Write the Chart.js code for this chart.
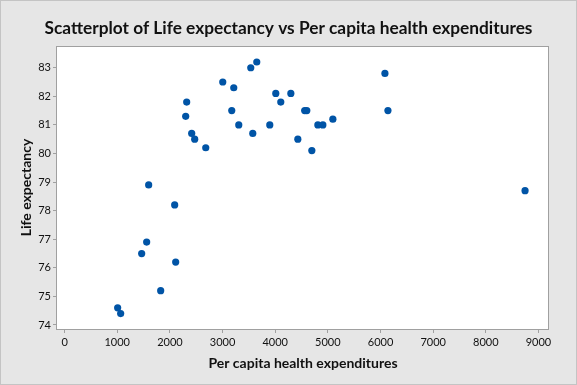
<!DOCTYPE html>
<html>
<head>
<meta charset="utf-8">
<script src="https://cdn.jsdelivr.net/npm/chart.js@4"></script>
<style>
  html, body { margin: 0; padding: 0; background: #e6e6e6; }
  canvas { display: block; }
</style>
</head>
<body>
<canvas id="chart" width="577" height="385"></canvas>
<script>
const chartTitle = "Scatterplot of Life expectancy vs Per capita health expenditures";
const xTitle = "Per capita health expenditures";
const yTitle = "Life expectancy";

// per capita health expenditures (x) and life expectancy (y), one entry per country
const expenditures = [1008, 1065, 1464, 1559, 1597, 1825, 2091, 2110, 2300, 2319, 2414, 2471, 2681,
  3004, 3175, 3213, 3308, 3536, 3574, 3650, 3897, 4011, 4106, 4297, 4430, 4560, 4600, 4696, 4810,
  4905, 5095, 6084, 6141, 8745];
const lifeExpectancy = [74.6, 74.4, 76.5, 76.9, 78.9, 75.2, 78.2, 76.2, 81.3, 81.8, 80.7, 80.5, 80.2,
  82.5, 81.5, 82.3, 81.0, 83.0, 80.7, 83.2, 81.0, 82.1, 81.8, 82.1, 80.5, 81.5, 81.5, 80.1, 81.0,
  81.0, 81.2, 82.8, 81.5, 78.7];

const xTicks = [0, 1000, 2000, 3000, 4000, 5000, 6000, 7000, 8000, 9000];
const yTicks = [74, 75, 76, 77, 78, 79, 80, 81, 82, 83];

const points = expenditures.map((x, i) => ({ x: x, y: lifeExpectancy[i] }));

const FONT = "Lato, 'Open Sans', sans-serif";

// grey page, white plot box, frame and the main title
const frame = {
  id: "frame",
  beforeDraw(chart) {
    const { ctx, chartArea: a, width, height } = chart;
    ctx.save();
    ctx.fillStyle = "#e6e6e6";
    ctx.fillRect(0, 0, width, height);
    ctx.strokeStyle = "#c4c4c4";
    ctx.lineWidth = 1;
    ctx.strokeRect(0.5, 0.5, width - 1, height - 1);
    ctx.fillStyle = "#ffffff";
    ctx.fillRect(a.left, a.top, a.right - a.left, a.bottom - a.top);
    ctx.restore();
  },
  afterDraw(chart) {
    const { ctx, chartArea: a, width } = chart;
    ctx.save();
    ctx.strokeStyle = "#a0a0a0";
    ctx.lineWidth = 1;
    ctx.strokeRect(a.left - 0.5, a.top + 0.5, a.right - a.left, a.bottom - a.top);
    ctx.fillStyle = "#111111";
    ctx.font = "bold 17.3px " + FONT;
    ctx.textAlign = "center";
    ctx.textBaseline = "alphabetic";
    ctx.fillText(chartTitle, width / 2, 34);
    ctx.restore();
  }
};

new Chart(document.getElementById("chart"), {
  type: "scatter",
  data: {
    datasets: [{
      data: points,
      backgroundColor: "#0054a6",
      borderWidth: 0,
      pointRadius: 3.6,
      pointHoverRadius: 3.6
    }]
  },
  options: {
    responsive: false,
    animation: false,
    devicePixelRatio: 1,
    layout: { padding: { top: 46, right: 28, left: 0, bottom: 0 } },
    plugins: {
      legend: { display: false },
      tooltip: { enabled: false },
      title: { display: false }
    },
    scales: {
      x: {
        type: "linear",
        min: -144,
        max: 9200,
        afterBuildTicks: (s) => { s.ticks = xTicks.map(v => ({ value: v })); },
        afterFit: (s) => { s.height = 56; },
        border: { display: false },
        grid: { drawOnChartArea: false, drawTicks: true, tickLength: 4, color: "#a0a0a0" },
        ticks: { color: "#111", font: { family: FONT, size: 11 }, padding: 3, maxRotation: 0, callback: (v) => String(v) },
        title: {
          display: true,
          text: xTitle,
          color: "#111",
          font: { family: FONT, size: 14, weight: "bold" },
          padding: { top: 0, bottom: 13 }
        }
      },
      y: {
        type: "linear",
        min: 73.86,
        max: 83.76,
        afterBuildTicks: (s) => { s.ticks = yTicks.map(v => ({ value: v })); },
        afterFit: (s) => { s.width = 57; },
        border: { display: false },
        grid: { drawOnChartArea: false, drawTicks: true, tickLength: 4, color: "#a0a0a0" },
        ticks: { color: "#111", font: { family: FONT, size: 11 }, padding: 2, callback: (v) => String(v) },
        title: {
          display: true,
          text: yTitle,
          color: "#111",
          font: { family: FONT, size: 14, weight: "bold" },
          padding: { top: 18, bottom: 0 }
        }
      }
    }
  },
  plugins: [frame]
});
</script>
</body>
</html>
